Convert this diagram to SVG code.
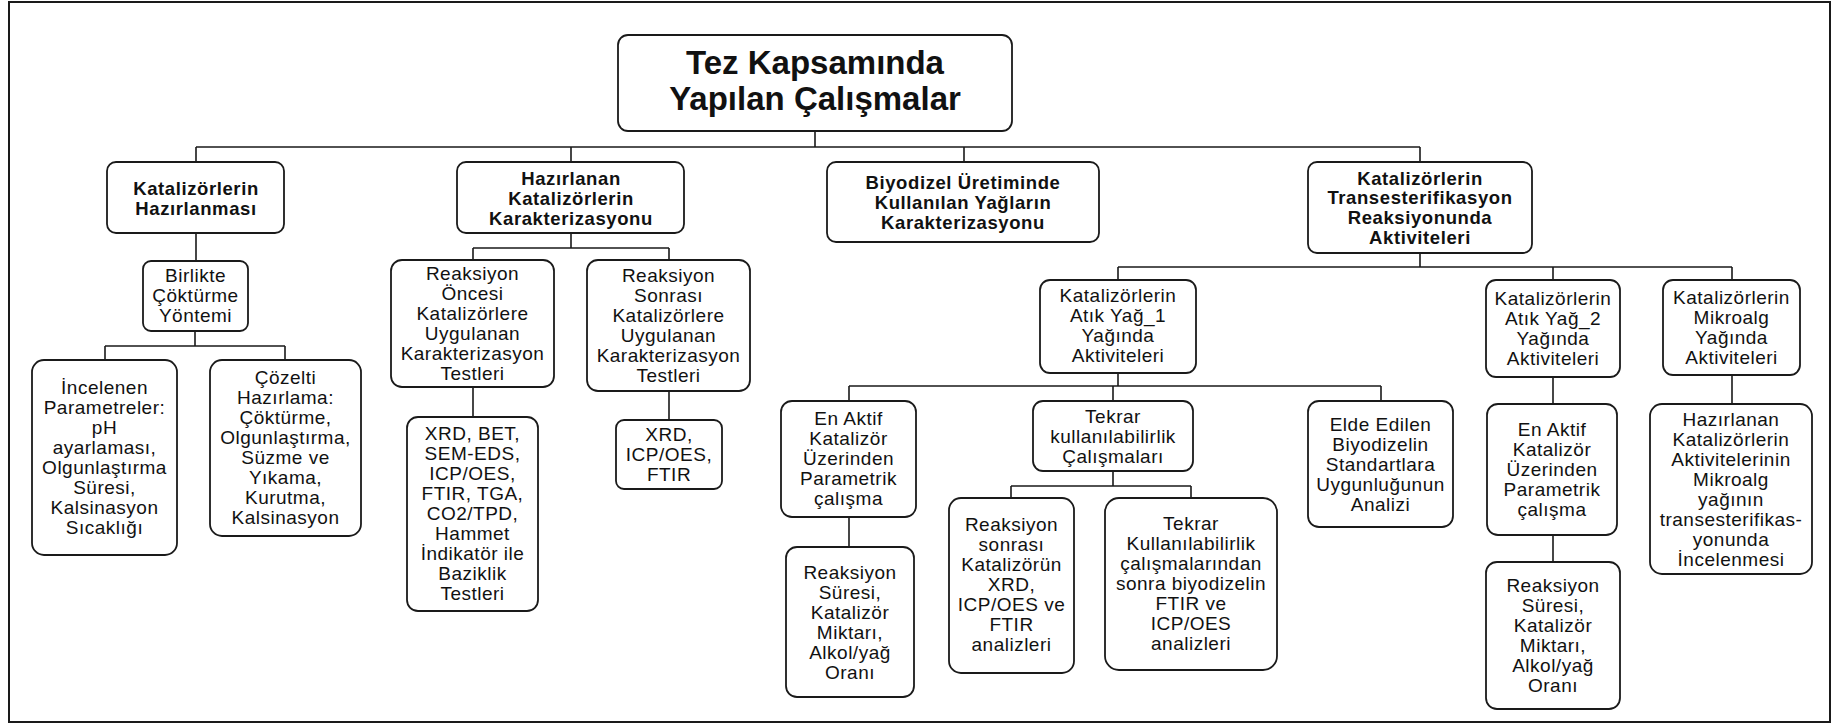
<svg xmlns="http://www.w3.org/2000/svg" width="1841" height="725" viewBox="0 0 1841 725">
<style>
.bx{fill:#fff;stroke:#1a1a1a;stroke-width:1.8}
.cn{fill:none;stroke:#1a1a1a;stroke-width:1.6}
.t{font-family:"Liberation Sans",Arial,sans-serif;font-size:19px;letter-spacing:0.5px;fill:#111;text-anchor:middle}
.b{font-family:"Liberation Sans",Arial,sans-serif;font-size:18.5px;font-weight:bold;letter-spacing:0.6px;fill:#111;text-anchor:middle}
.r{font-family:"Liberation Sans",Arial,sans-serif;font-size:33px;font-weight:bold;fill:#111;text-anchor:middle}
</style>
<rect x="0" y="0" width="1841" height="725" fill="#fff"/>
<rect x="9" y="2" width="1821" height="720" fill="none" stroke="#1a1a1a" stroke-width="2"/>
<g id="connectors">
<path class="cn" d="M815 131V147M196 147H1420M196 147V162M571 147V162M964 147V162M1420 147V162"/>
<path class="cn" d="M196 233V261M195 331V346M105 346H285M105 346V360M285 346V360"/>
<path class="cn" d="M571 233V248M473 248H669M473 248V260M669 248V260M473 387V417M669 391V420"/>
<path class="cn" d="M1420 253V267M1118 267H1732M1118 267V280M1553 267V280M1732 267V280"/>
<path class="cn" d="M1118 373V386M849 386H1381M849 386V401M1113 386V401M1381 386V401M849 517V547"/>
<path class="cn" d="M1113 471V486M1011 486H1191M1011 486V498M1191 486V498"/>
<path class="cn" d="M1553 377V404M1553 535V562M1732 375V404"/>
</g>
<g id="root"><rect class="bx" x="618" y="35" width="394" height="96" rx="10"/>
<text class="r" x="815" y="74">Tez Kapsamında</text><text class="r" x="815" y="110">Yapılan Çalışmalar</text></g>
<g id="n-hazirlanmasi"><rect class="bx" x="107" y="162" width="177" height="71" rx="9"/>
<text class="b" x="196" y="194.5">Katalizörlerin<tspan x="196" dy="20">Hazırlanması</tspan></text></g>
<g id="n-karakterizasyon"><rect class="bx" x="457" y="162" width="227" height="71" rx="9"/>
<text class="b" x="571" y="184.5">Hazırlanan<tspan x="571" dy="20">Katalizörlerin</tspan><tspan x="571" dy="20">Karakterizasyonu</tspan></text></g>
<g id="n-yaglar"><rect class="bx" x="827" y="162" width="272" height="80" rx="9"/>
<text class="b" x="963" y="188.5">Biyodizel Üretiminde<tspan x="963" dy="20">Kullanılan Yağların</tspan><tspan x="963" dy="20">Karakterizasyonu</tspan></text></g>
<g id="n-aktiviteler"><rect class="bx" x="1308" y="162" width="224" height="91" rx="9"/>
<text class="b" x="1420" y="184.5">Katalizörlerin<tspan x="1420" dy="19.7">Transesterifikasyon</tspan><tspan x="1420" dy="19.7">Reaksiyonunda</tspan><tspan x="1420" dy="19.7">Aktiviteleri</tspan></text></g>
<g id="n-birlikte"><rect class="bx" x="143" y="261" width="105" height="70" rx="8"/>
<text class="t" x="195.5" y="282">Birlikte<tspan x="195.5" dy="20">Çöktürme</tspan><tspan x="195.5" dy="20">Yöntemi</tspan></text></g>
<g id="n-incelenen"><rect class="bx" x="32" y="360" width="145" height="195" rx="12"/>
<text class="t" x="104.5" y="394">İncelenen<tspan x="104.5" dy="20">Parametreler:</tspan><tspan x="104.5" dy="20">pH</tspan><tspan x="104.5" dy="20">ayarlaması,</tspan><tspan x="104.5" dy="20">Olgunlaştırma</tspan><tspan x="104.5" dy="20">Süresi,</tspan><tspan x="104.5" dy="20">Kalsinasyon</tspan><tspan x="104.5" dy="20">Sıcaklığı</tspan></text></g>
<g id="n-cozelti"><rect class="bx" x="210" y="360" width="151" height="176" rx="12"/>
<text class="t" x="285.5" y="384">Çözelti<tspan x="285.5" dy="20">Hazırlama:</tspan><tspan x="285.5" dy="20">Çöktürme,</tspan><tspan x="285.5" dy="20">Olgunlaştırma,</tspan><tspan x="285.5" dy="20">Süzme ve</tspan><tspan x="285.5" dy="20">Yıkama,</tspan><tspan x="285.5" dy="20">Kurutma,</tspan><tspan x="285.5" dy="20">Kalsinasyon</tspan></text></g>
<g id="n-oncesi"><rect class="bx" x="391" y="260" width="163" height="127" rx="11"/>
<text class="t" x="472.5" y="280">Reaksiyon<tspan x="472.5" dy="20">Öncesi</tspan><tspan x="472.5" dy="20">Katalizörlere</tspan><tspan x="472.5" dy="20">Uygulanan</tspan><tspan x="472.5" dy="20">Karakterizasyon</tspan><tspan x="472.5" dy="20">Testleri</tspan></text></g>
<g id="n-xrdbet"><rect class="bx" x="407" y="417" width="131" height="194" rx="11"/>
<text class="t" x="472.5" y="440">XRD, BET,<tspan x="472.5" dy="20">SEM-EDS,</tspan><tspan x="472.5" dy="20">ICP/OES,</tspan><tspan x="472.5" dy="20">FTIR, TGA,</tspan><tspan x="472.5" dy="20">CO2/TPD,</tspan><tspan x="472.5" dy="20">Hammet</tspan><tspan x="472.5" dy="20">İndikatör ile</tspan><tspan x="472.5" dy="20">Baziklik</tspan><tspan x="472.5" dy="20">Testleri</tspan></text></g>
<g id="n-sonrasi"><rect class="bx" x="587" y="260" width="163" height="131" rx="11"/>
<text class="t" x="668.5" y="282">Reaksiyon<tspan x="668.5" dy="20">Sonrası</tspan><tspan x="668.5" dy="20">Katalizörlere</tspan><tspan x="668.5" dy="20">Uygulanan</tspan><tspan x="668.5" dy="20">Karakterizasyon</tspan><tspan x="668.5" dy="20">Testleri</tspan></text></g>
<g id="n-xrdicp"><rect class="bx" x="616" y="420" width="106" height="69" rx="8"/>
<text class="t" x="669" y="441">XRD,<tspan x="669" dy="20">ICP/OES,</tspan><tspan x="669" dy="20">FTIR</tspan></text></g>
<g id="n-atik1"><rect class="bx" x="1040" y="280" width="156" height="93" rx="10"/>
<text class="t" x="1118" y="302">Katalizörlerin<tspan x="1118" dy="20">Atık Yağ_1</tspan><tspan x="1118" dy="20">Yağında</tspan><tspan x="1118" dy="20">Aktiviteleri</tspan></text></g>
<g id="n-enaktif1"><rect class="bx" x="781" y="401" width="135" height="116" rx="11"/>
<text class="t" x="848.5" y="425">En Aktif<tspan x="848.5" dy="20">Katalizör</tspan><tspan x="848.5" dy="20">Üzerinden</tspan><tspan x="848.5" dy="20">Parametrik</tspan><tspan x="848.5" dy="20">çalışma</tspan></text></g>
<g id="n-sure1"><rect class="bx" x="786" y="547" width="128" height="150" rx="11"/>
<text class="t" x="850" y="579">Reaksiyon<tspan x="850" dy="20">Süresi,</tspan><tspan x="850" dy="20">Katalizör</tspan><tspan x="850" dy="20">Miktarı,</tspan><tspan x="850" dy="20">Alkol/yağ</tspan><tspan x="850" dy="20">Oranı</tspan></text></g>
<g id="n-tekrar"><rect class="bx" x="1033" y="401" width="160" height="70" rx="10"/>
<text class="t" x="1113" y="423">Tekrar<tspan x="1113" dy="20">kullanılabilirlik</tspan><tspan x="1113" dy="20">Çalışmaları</tspan></text></g>
<g id="n-reaksonra"><rect class="bx" x="949" y="498" width="125" height="175" rx="12"/>
<text class="t" x="1011.5" y="531">Reaksiyon<tspan x="1011.5" dy="20">sonrası</tspan><tspan x="1011.5" dy="20">Katalizörün</tspan><tspan x="1011.5" dy="20">XRD,</tspan><tspan x="1011.5" dy="20">ICP/OES ve</tspan><tspan x="1011.5" dy="20">FTIR</tspan><tspan x="1011.5" dy="20">analizleri</tspan></text></g>
<g id="n-tekrar2"><rect class="bx" x="1105" y="498" width="172" height="172" rx="14"/>
<text class="t" x="1191" y="530">Tekrar<tspan x="1191" dy="20">Kullanılabilirlik</tspan><tspan x="1191" dy="20">çalışmalarından</tspan><tspan x="1191" dy="20">sonra biyodizelin</tspan><tspan x="1191" dy="20">FTIR ve</tspan><tspan x="1191" dy="20">ICP/OES</tspan><tspan x="1191" dy="20">analizleri</tspan></text></g>
<g id="n-elde"><rect class="bx" x="1308" y="401" width="145" height="126" rx="11"/>
<text class="t" x="1380.5" y="431">Elde Edilen<tspan x="1380.5" dy="20">Biyodizelin</tspan><tspan x="1380.5" dy="20">Standartlara</tspan><tspan x="1380.5" dy="20">Uygunluğunun</tspan><tspan x="1380.5" dy="20">Analizi</tspan></text></g>
<g id="n-atik2"><rect class="bx" x="1486" y="280" width="134" height="97" rx="10"/>
<text class="t" x="1553" y="305">Katalizörlerin<tspan x="1553" dy="20">Atık Yağ_2</tspan><tspan x="1553" dy="20">Yağında</tspan><tspan x="1553" dy="20">Aktiviteleri</tspan></text></g>
<g id="n-mikroalg"><rect class="bx" x="1663" y="280" width="137" height="95" rx="10"/>
<text class="t" x="1731.5" y="304">Katalizörlerin<tspan x="1731.5" dy="20">Mikroalg</tspan><tspan x="1731.5" dy="20">Yağında</tspan><tspan x="1731.5" dy="20">Aktiviteleri</tspan></text></g>
<g id="n-enaktif2"><rect class="bx" x="1487" y="404" width="130" height="131" rx="11"/>
<text class="t" x="1552" y="436">En Aktif<tspan x="1552" dy="20">Katalizör</tspan><tspan x="1552" dy="20">Üzerinden</tspan><tspan x="1552" dy="20">Parametrik</tspan><tspan x="1552" dy="20">çalışma</tspan></text></g>
<g id="n-sure2"><rect class="bx" x="1486" y="562" width="134" height="147" rx="11"/>
<text class="t" x="1553" y="592">Reaksiyon<tspan x="1553" dy="20">Süresi,</tspan><tspan x="1553" dy="20">Katalizör</tspan><tspan x="1553" dy="20">Miktarı,</tspan><tspan x="1553" dy="20">Alkol/yağ</tspan><tspan x="1553" dy="20">Oranı</tspan></text></g>
<g id="n-hazmikro"><rect class="bx" x="1650" y="404" width="162" height="170" rx="12"/>
<text class="t" x="1731" y="426">Hazırlanan<tspan x="1731" dy="20">Katalizörlerin</tspan><tspan x="1731" dy="20">Aktivitelerinin</tspan><tspan x="1731" dy="20">Mikroalg</tspan><tspan x="1731" dy="20">yağının</tspan><tspan x="1731" dy="20">transesterifikas-</tspan><tspan x="1731" dy="20">yonunda</tspan><tspan x="1731" dy="20">İncelenmesi</tspan></text></g>
</svg>
